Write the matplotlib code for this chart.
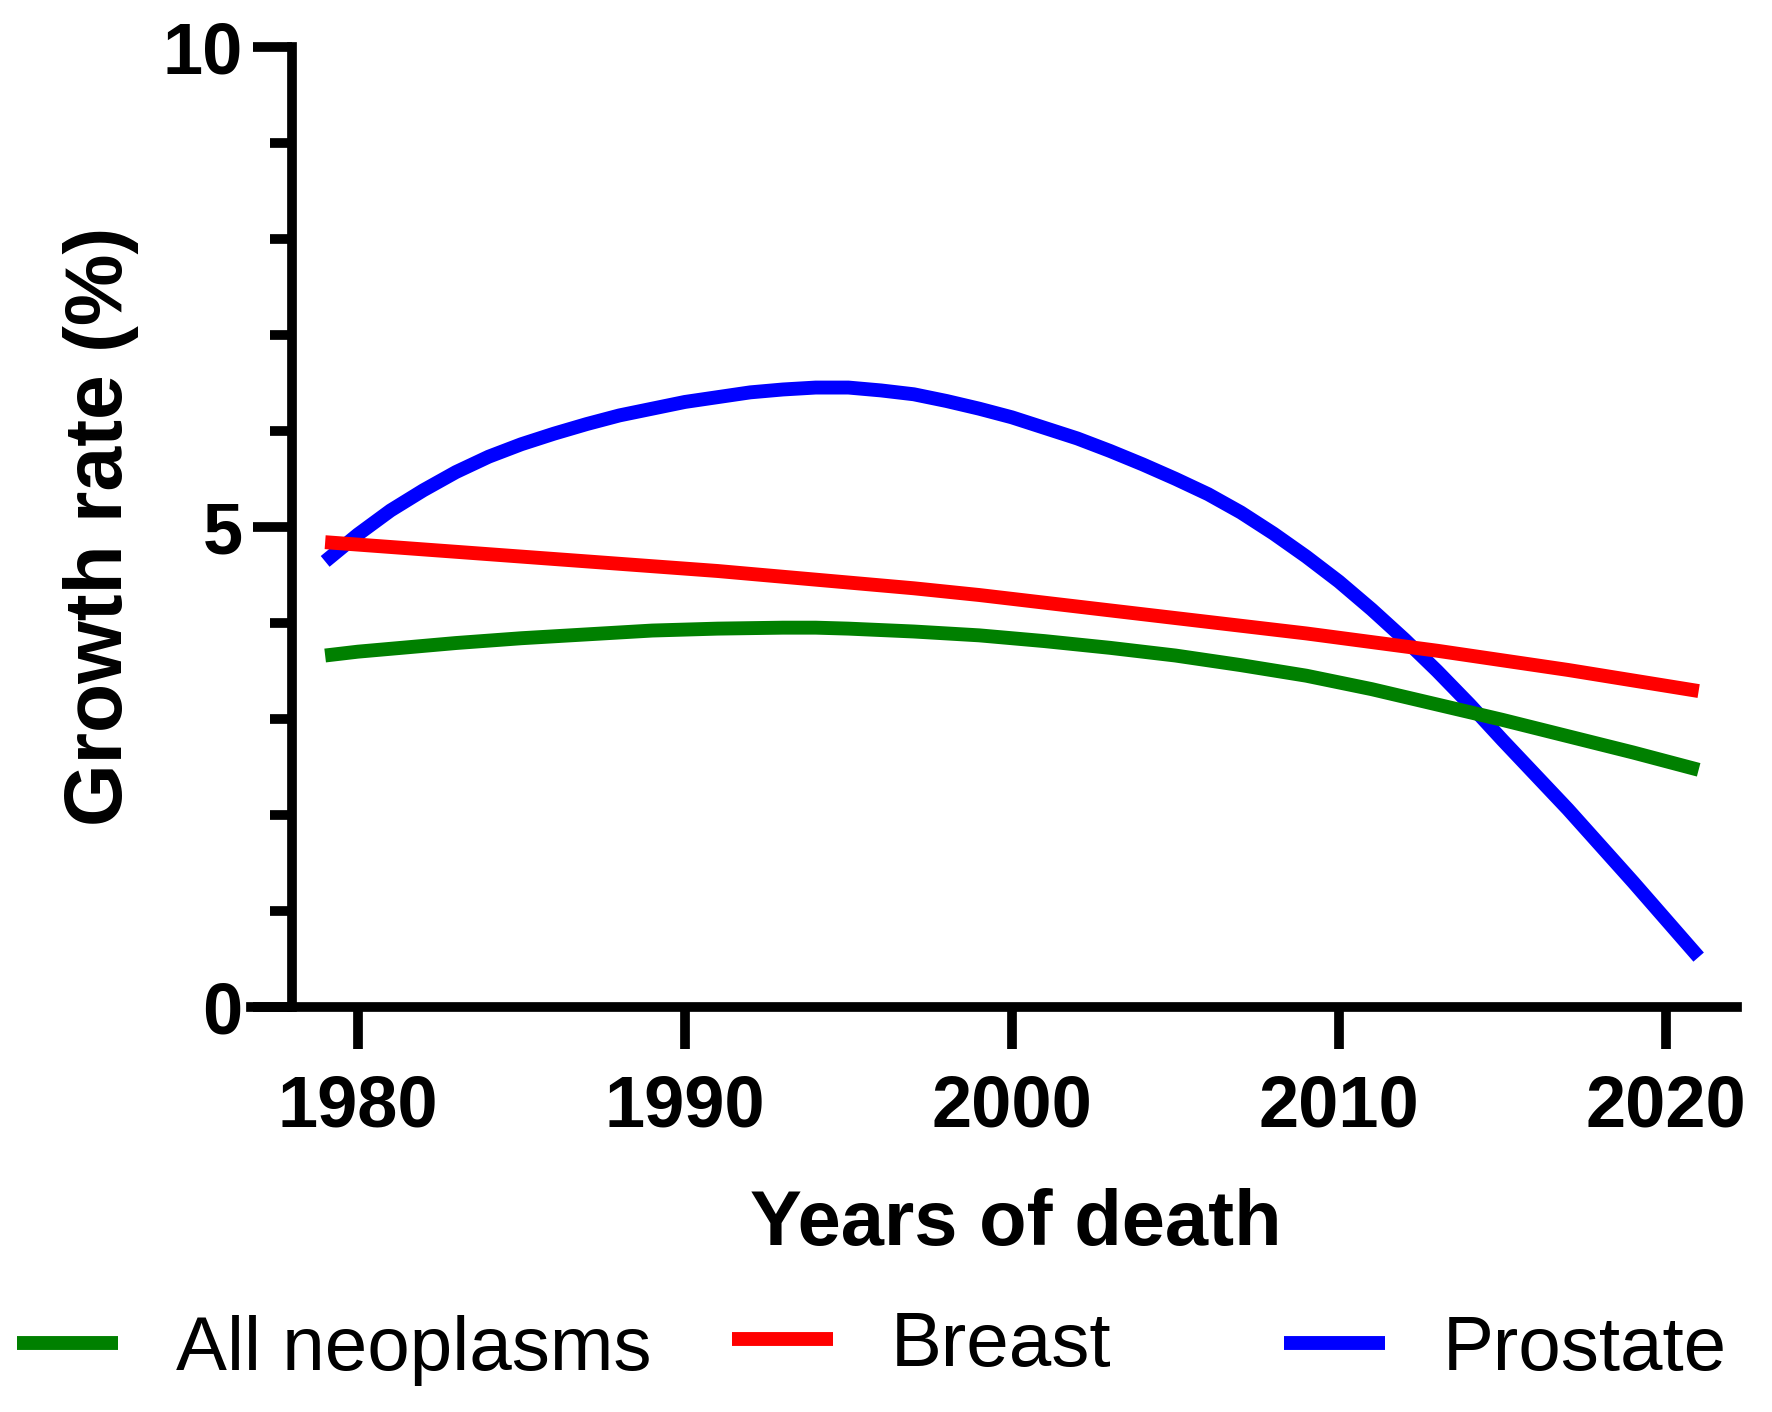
"""Growth rate of deaths by cancer site, fitted trends 1979-2021."""

import matplotlib.pyplot as plt
from matplotlib.lines import Line2D
from matplotlib.ticker import MultipleLocator

plt.rcParams["font.family"] = ["Liberation Sans", "DejaVu Sans"]

# values, one per year 1979..2021
years = list(range(1979, 2022))
all_neoplasms = [3.66, 3.70, 3.73, 3.76, 3.79, 3.815, 3.84, 3.86, 3.88, 3.90, 3.92,
                 3.93, 3.94, 3.945, 3.95, 3.95, 3.94, 3.925, 3.91, 3.89, 3.87,
                 3.84, 3.81, 3.775, 3.74, 3.70, 3.66, 3.61, 3.56, 3.505, 3.45,
                 3.38, 3.31, 3.23, 3.15, 3.07, 2.99, 2.905, 2.82, 2.735, 2.65,
                 2.56, 2.47]
breast = [4.84, 4.815, 4.79, 4.765, 4.74, 4.715, 4.69, 4.665, 4.64, 4.615, 4.59,
          4.565, 4.54, 4.51, 4.48, 4.45, 4.42, 4.39, 4.36, 4.325, 4.29,
          4.25, 4.21, 4.17, 4.13, 4.09, 4.05, 4.01, 3.97, 3.93, 3.89,
          3.845, 3.80, 3.755, 3.71, 3.66, 3.61, 3.56, 3.51, 3.455, 3.40,
          3.345, 3.29]
prostate = [4.64, 4.92, 5.17, 5.38, 5.57, 5.73, 5.86, 5.97, 6.07, 6.16, 6.23,
            6.30, 6.35, 6.40, 6.43, 6.45, 6.45, 6.42, 6.38, 6.31, 6.23,
            6.14, 6.03, 5.92, 5.79, 5.65, 5.50, 5.34, 5.15, 4.93, 4.69,
            4.43, 4.14, 3.83, 3.50, 3.15, 2.78, 2.42, 2.06, 1.68, 1.30,
            0.91, 0.52]

x_ticks = [1980, 1990, 2000, 2010, 2020]
y_ticks = [0, 5, 10]

labels = ["All neoplasms", "Breast", "Prostate"]
colors = ["#008000", "#ff0000", "#0000ff"]


def main() -> None:
    fig = plt.figure(figsize=(8.86, 7.06), dpi=200)
    ax = fig.add_axes([0.1416, 0.2868, 0.8386, 0.6802])

    line_w = 5.0
    style = dict(lw=line_w, solid_capstyle="butt", solid_joinstyle="round")
    # prostate first so the other two sit on top at the crossings
    ax.plot(years, prostate, color=colors[2], zorder=2, **style)
    ax.plot(years, all_neoplasms, color=colors[0], zorder=3, **style)
    ax.plot(years, breast, color=colors[1], zorder=4, **style)

    ax.set_xlim(1976.73, 2022.17)
    ax.set_ylim(0, 10)

    for side in ("top", "right"):
        ax.spines[side].set_visible(False)
    ax.spines["left"].set_position(("data", 1978))
    for side in ("left", "bottom"):
        ax.spines[side].set_linewidth(3.5)
        ax.spines[side].set_color("black")

    ax.set_xticks(x_ticks)
    ax.set_yticks(y_ticks)
    ax.yaxis.set_minor_locator(MultipleLocator(1))
    ax.tick_params(axis="x", which="major", direction="out", length=15, width=3.5,
                   pad=9, labelsize=26)
    ax.tick_params(axis="y", which="major", direction="out", length=14, width=3.5,
                   pad=4, labelsize=26)
    ax.tick_params(axis="y", which="minor", direction="out", length=8, width=3.5)
    for lab in ax.get_xticklabels() + ax.get_yticklabels():
        lab.set_fontweight("bold")

    ax.set_xlabel("Years of death", fontsize=28, fontweight="bold")
    ax.xaxis.set_label_coords(0.515, -0.188)
    ax.set_ylabel("Growth rate (%)", fontsize=29, fontweight="bold", va="center")
    ax.yaxis.set_label_coords(-0.101, 0.5)

    # legend entries are spaced unevenly in the reference, so one legend each
    legend_x = [17 / 1772, 732 / 1772, 1284 / 1772]
    legend_y = [0.0439, 0.0467, 0.0439]
    for name, color, lx, ly in zip(labels, colors, legend_x, legend_y):
        handle = Line2D([0], [0], color=color, lw=line_w, solid_capstyle="butt")
        fig.legend(handles=[handle], labels=[name], loc="center left",
                   bbox_to_anchor=(lx, ly), frameon=False, fontsize=27.5,
                   handlelength=1.32, handletextpad=0.76, borderpad=0,
                   borderaxespad=0)

    fig.savefig("out.png", dpi=200)


if __name__ == "__main__":
    main()
